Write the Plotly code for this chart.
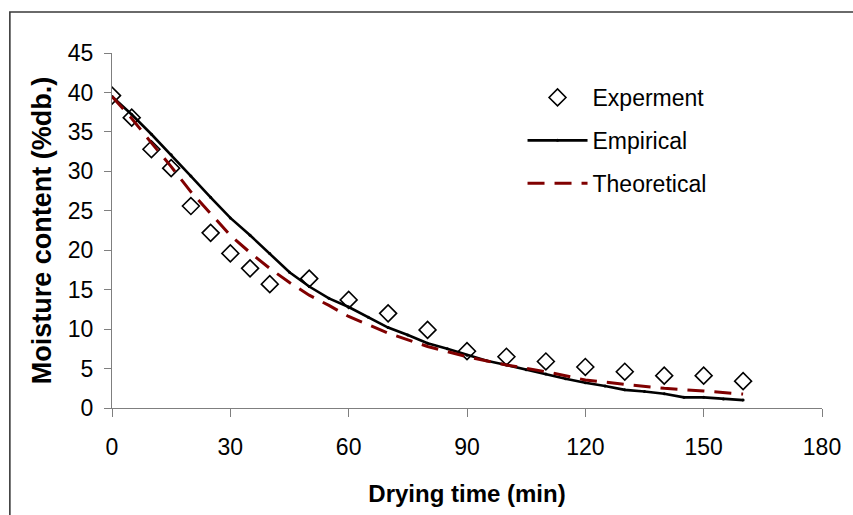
import plotly.graph_objects as go

# Experimental data
exp_time = [0, 5, 10, 15, 20, 25, 30, 35, 40, 50, 60, 70, 80, 90, 100, 110, 120, 130, 140, 150, 160]
exp_mc = [39.6, 36.8, 32.8, 30.4, 25.6, 22.2, 19.6, 17.7, 15.7, 16.4, 13.7, 12.0, 9.9, 7.2, 6.5, 5.9, 5.2, 4.6, 4.1, 4.1, 3.4]

# Empirical model
emp_time = [0, 5, 10, 15, 20, 25, 30, 35, 40, 45, 50, 55, 60, 65, 70, 75, 80, 85, 90, 95, 100,
            105, 110, 115, 120, 125, 130, 135, 140, 145, 150, 155, 160]
emp_mc = [39.5, 37.2, 34.7, 32.1, 29.4, 26.7, 24.1, 21.9, 19.6, 17.2, 15.4, 13.9, 12.8, 11.5, 10.2,
          9.25, 8.2, 7.5, 6.7, 6.0, 5.45, 4.85, 4.3, 3.7, 3.2, 2.8, 2.3, 2.1, 1.8, 1.35, 1.35, 1.15, 1.0]

# Theoretical model
theo_time = [0, 5, 10, 15, 20, 25, 30, 35, 40, 45, 50, 55, 60, 70, 80, 90, 100, 110, 120, 130, 140, 150, 160]
theo_mc = [39.5, 36.7, 33.6, 30.6, 27.4, 24.6, 21.9, 19.7, 17.7, 15.9, 14.3, 13.0, 11.6, 9.5, 7.8,
           6.5, 5.45, 4.6, 3.55, 3.0, 2.5, 2.15, 1.77]

FONT = "Liberation Sans, Arial, sans-serif"

fig = go.Figure()
fig.add_trace(go.Scatter(
    x=exp_time, y=exp_mc, mode="markers", name="Experment", legendgroup="a",
    marker=dict(symbol="diamond-open", size=13, color="black", line=dict(width=1.6, color="black")),
))
fig.add_trace(go.Scatter(
    x=emp_time, y=emp_mc, mode="lines+markers", name="Empirical", legendgroup="b",
    line=dict(color="black", width=2.6),
    marker=dict(symbol="circle", size=3, color="black"),
))
fig.add_trace(go.Scatter(
    x=theo_time, y=theo_mc, mode="lines", name="Theoretical", legendgroup="c",
    line=dict(color="#800000", width=3, dash="17px,10px"),
))

L, R, T, B = 112, 25, 53, 107
pw = 853 - L - R
ph = 515 - T - B

def px2x(px):
    return (px - L) / pw

def py2y(py):
    return (515 - B - py) / ph

fig.update_layout(
    width=853, height=515,
    margin=dict(l=L, r=R, t=T, b=B),
    paper_bgcolor="white", plot_bgcolor="white",
    font=dict(family=FONT, size=22, color="black"),
    showlegend=True,
    legend=dict(
        x=px2x(526), y=py2y(76), xanchor="left", yanchor="top",
        bgcolor="rgba(0,0,0,0)", font=dict(size=23, family=FONT),
        itemwidth=60, tracegroupgap=10, traceorder="grouped",
    ),
    xaxis=dict(
        range=[0, 180], dtick=30, tick0=0,
        showline=True, linecolor="#7f7f7f", linewidth=1.2,
        ticks="outside", ticklen=8, tickcolor="#7f7f7f", tickwidth=1.2,
        showgrid=False, zeroline=False,
        tickfont=dict(size=23, family=FONT),
        ticklabelstandoff=10,
        title=dict(text="<b>Drying time (min)</b>", font=dict(size=24, family=FONT), standoff=26),
    ),
    yaxis=dict(
        range=[0, 45], dtick=5, tick0=0,
        showline=True, linecolor="#7f7f7f", linewidth=1.2,
        ticks="outside", ticklen=7, tickcolor="#7f7f7f", tickwidth=1.2,
        showgrid=False, zeroline=False,
        tickfont=dict(size=23, family=FONT),
        ticklabelstandoff=6,
        title=dict(text="<b>Moisture content (%db.)</b>", font=dict(size=27, family=FONT), standoff=8),
    ),
    shapes=[
        dict(type="rect", xref="paper", yref="paper",
             x0=px2x(9), x1=px2x(870), y0=py2y(540), y1=py2y(12),
             line=dict(color="#3a3a3a", width=1.6), fillcolor="rgba(0,0,0,0)", layer="below"),
    ],
)

fig.write_html("out.html")
